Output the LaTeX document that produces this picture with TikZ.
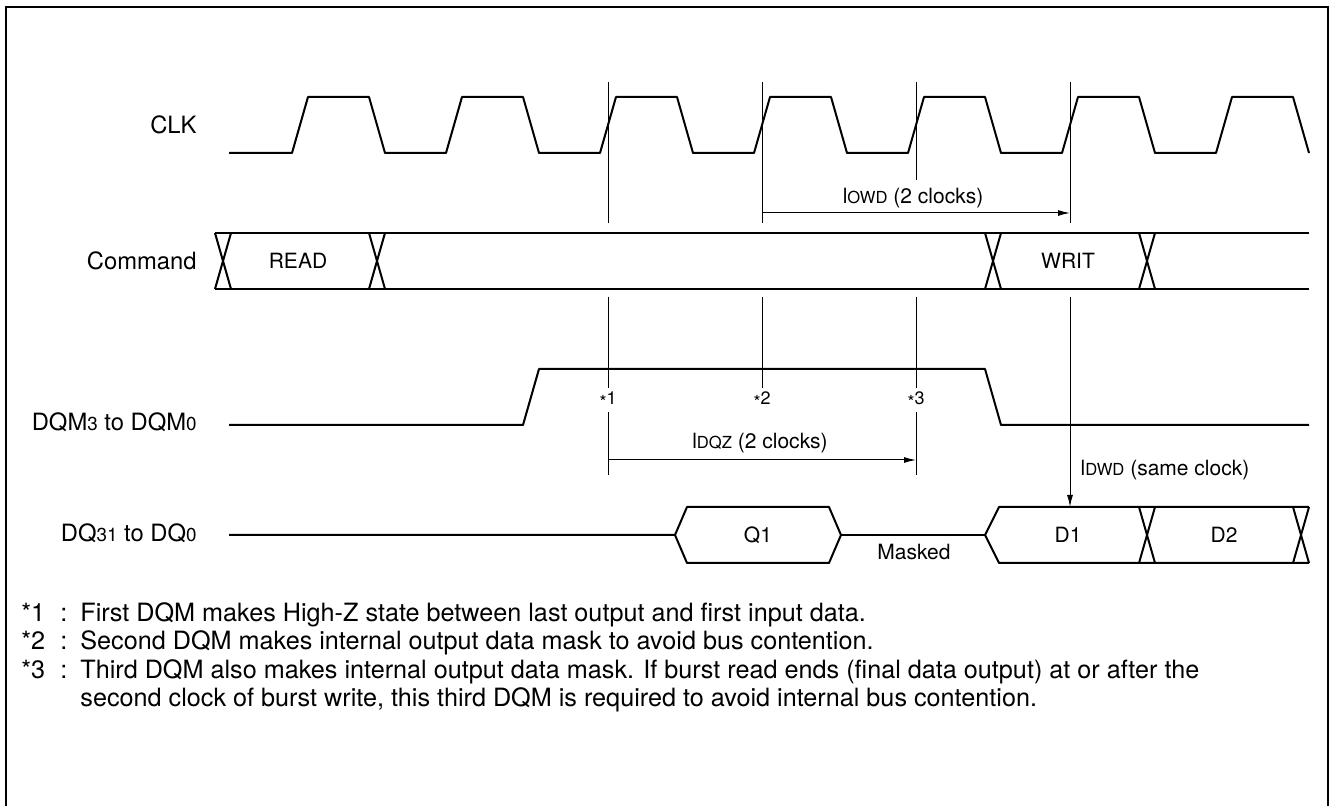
\documentclass[tikz,border=0pt]{standalone}
\usepackage{fontspec}
\setmainfont{TeX Gyre Heros}
\usetikzlibrary{arrows.meta}

\newcommand\lowr[1]{{\fontsize{9.4}{9.4}\selectfont #1}}
\newcommand\lowt[1]{{\fontsize{8.3}{8.3}\selectfont #1}}
\newcommand\notemark[1]{\makebox[29.5pt][l]{\makebox[19.5pt][l]{*#1}:}}
\newcommand\starmark[1]{\raisebox{-.45ex}{*}#1}

\begin{document}
\begin{tikzpicture}[x=0.5pt,y=-0.5pt,
    sig/.style={line width=1pt,line join=round},
    guide/.style={line width=0.5pt},
    timing/.style={line width=0.5pt,-{Latex[length=6pt,width=3pt]}},
    lbl/.style={anchor=east,inner sep=0pt,font=\fontsize{11.9}{14}\selectfont},
    val/.style={inner sep=0pt,font=\fontsize{10.5}{12}\selectfont},
    starlbl/.style={inner sep=0pt,font=\fontsize{9}{10}\selectfont},
    note/.style={anchor=west,inner sep=0pt,font=\fontsize{12.6}{14}\selectfont}]

  \useasboundingbox (0,0) rectangle (1334,806);
  \draw[line width=0.9pt] (6,806) -- (6,7);
  \draw[line width=1.4pt] (5,7) -- (1329,7);
  \draw[line width=0.6pt] (1328,7) -- (1328,806);

  \node[lbl] (clk) at (197,125) {CLK};
  \node[lbl] (cmd) at (197,261) {Command};
  \node[lbl] (dqm) at (197,422) {DQM\lowr{3} to DQM\lowr{0}};
  \node[lbl] (dq)  at (197,533) {DQ\lowr{31} to DQ\lowr{0}};

  \draw[sig] (229,153) foreach \k in {0,...,6} {
    -- ({292+154*\k},153) -- ({308+154*\k},97) -- ({369+154*\k},97) -- ({385+154*\k},153)};

  \draw[sig] (215,233) -- (1309,233) (215,289) -- (1309,289);
  \foreach \c in {223,377,993,1147}
    \draw[sig] ({\c-8},233) -- ({\c+8},289) ({\c-8},289) -- ({\c+8},233);
  \node[val] (read) at (298,261) {READ};
  \node[val] (writ) at (1068,261) {WRIT};

  \draw[sig] (229,425) -- (523,425) -- (539,369) -- (985,369) -- (1001,425) -- (1309,425);

  \draw[sig] (229,535) -- (675,535) -- (687,507) -- (829,507) -- (841,535) -- (829,563) -- (687,563) -- (675,535);
  \draw[sig] (841,535) -- (985,535);
  \draw[sig] (1309,507) -- (999,507) -- (985,535) -- (999,563) -- (1309,563);
  \foreach \c in {1147,1301}
    \draw[sig] ({\c-8},507) -- ({\c+8},563) ({\c-8},563) -- ({\c+8},507);
  \node[val] (q1) at (758,535) {Q1};
  \node[val] (d1) at (1068,535) {D1};
  \node[val] (d2) at (1224,535) {D2};
  \node[val] (masked) at (914,552) {Masked};

  \foreach \x in {608,762,1070}
    \draw[guide] (\x,82) -- (\x,223);
  \draw[guide] (916,82) -- (916,180);
  \foreach \x in {608,762,916}
    \draw[guide] (\x,297) -- (\x,388);
  \foreach \x in {608,916}
    \draw[guide] (\x,412) -- (\x,475);

  \node[starlbl] (s1) at (608,400) {\starmark{1}};
  \node[starlbl] (s2) at (762,400) {\starmark{2}};
  \node[starlbl] (s3) at (916,400) {\starmark{3}};

  \coordinate (owdA) at (762,213);
  \coordinate (owdB) at (1070,213);
  \coordinate (dqzA) at (608,460);
  \coordinate (dqzB) at (916,460);
  \coordinate (dwdA) at (1070,297);
  \coordinate (dwdB) at (1070,507);
  \draw[timing] (owdA) -- (owdB);
  \draw[timing] (dqzA) -- (dqzB);
  \draw[timing] (dwdA) -- (dwdB);
  \node[val] (owd) at (913,198) {l\lowt{OWD} (2 clocks)};
  \node[val] (dqz) at (760,443) {l\lowt{DQZ} (2 clocks)};
  \node[val] (dwd) at (1165,470) {l\lowt{DWD} (same clock)};

  \node[note] (n1) at (21,615) {\notemark{1}First DQM makes High-Z state between last output and first input data.};
  \node[note] (n2) at (21,643) {\notemark{2}Second DQM makes internal output data mask to avoid bus contention.};
  \node[note] (n3) at (21,672) {\notemark{3}Third DQM also makes internal output data mask. If burst read ends (final data output) at or after the};
  \node[note] (n3b) at (80,700) {second clock of burst write, this third DQM is required to avoid internal bus contention.};

\end{tikzpicture}
\end{document}
